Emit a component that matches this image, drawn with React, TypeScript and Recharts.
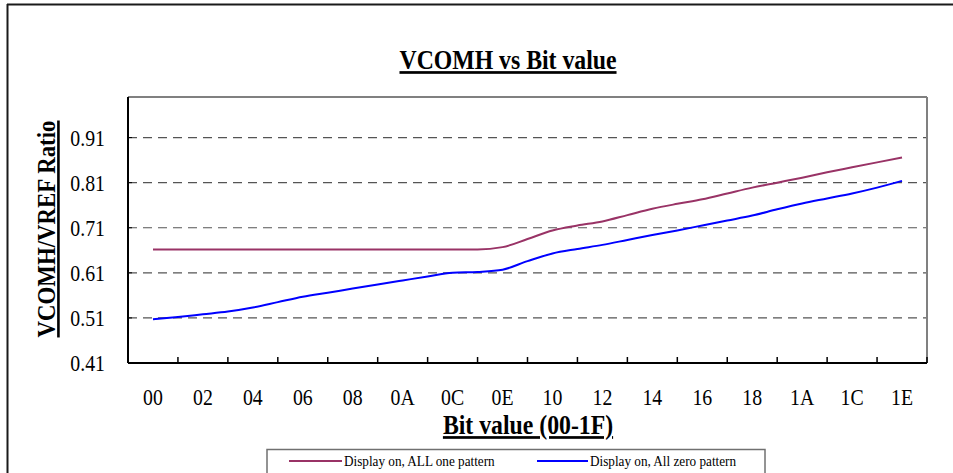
import React from "react";
import {
  LineChart,
  Line,
  XAxis,
  YAxis,
  CartesianGrid,
  ReferenceLine,
} from "recharts";

// bit codes 00..1E (one point per code)
const bitCodes = [
  "00", "01", "02", "03", "04", "05", "06", "07", "08", "09", "0A", "0B", "0C", "0D", "0E", "0F",
  "10", "11", "12", "13", "14", "15", "16", "17", "18", "19", "1A", "1B", "1C", "1D", "1E",
];

// Display on, ALL one pattern
const allOnePattern = [
  0.662, 0.662, 0.662, 0.662, 0.662, 0.662, 0.662, 0.662, 0.662, 0.662, 0.662, 0.662, 0.662, 0.662,
  0.667, 0.685, 0.704, 0.715, 0.724, 0.738, 0.752, 0.763, 0.773, 0.786, 0.799, 0.81, 0.821, 0.833,
  0.844, 0.855, 0.866,
];

// Display on, All zero pattern
const allZeroPattern = [
  0.507, 0.512, 0.518, 0.524, 0.533, 0.545, 0.557, 0.566, 0.575, 0.584, 0.593, 0.602, 0.61, 0.612,
  0.617, 0.636, 0.653, 0.663, 0.672, 0.683, 0.694, 0.704, 0.715, 0.726, 0.737, 0.751, 0.764, 0.775,
  0.786, 0.799, 0.814,
];

const xTickLabels = ["00", "02", "04", "06", "08", "0A", "0C", "0E", "10", "12", "14", "16", "18", "1A", "1C", "1E"];
const yTicks = [0.41, 0.51, 0.61, 0.71, 0.81, 0.91];

const data = bitCodes.map((code, i) => ({
  bit: parseInt(code, 16),
  allOne: allOnePattern[i],
  allZero: allZeroPattern[i],
}));

// every integer from -1 to 31: odd ones are tick marks, even ones are labels
const xTicks = Array.from({ length: 33 }, (_, i) => i - 1);

const FONT = "'Liberation Serif', 'Times New Roman', serif";
const MAROON = "#993366";
const BLUE = "#0000ff";
// the original text is a bit narrow and tall
const SQUEEZE = 0.88;

function Txt({ x, y, size, anchor = "start", bold = false, underline = false, rotate = 0, children }: any) {
  return (
    <text
      transform={`translate(${x},${y}) rotate(${rotate}) scale(${SQUEEZE},1)`}
      textAnchor={anchor}
      fontFamily={FONT}
      fontSize={size}
      fontWeight={bold ? "bold" : "normal"}
      fill="#000"
      style={underline ? { textDecoration: "underline" } : undefined}
    >
      {children}
    </text>
  );
}

function BitTick({ x, y, payload }: any) {
  const v = payload.value;
  if (v % 2 !== 0) {
    return <line x1={x} x2={x} y1={y} y2={y - 6} stroke="#000" strokeWidth={1.5} />;
  }
  return (
    <Txt x={x} y={y + 42} size={22.5} anchor="middle">
      {xTickLabels[v / 2]}
    </Txt>
  );
}

function RatioTick({ x, y, payload }: any) {
  return (
    <g>
      <line x1={x} x2={x + 4} y1={y} y2={y} stroke="#000" strokeWidth={1} />
      <Txt x={x - 23} y={y + 8} size={22.5} anchor="end">
        {payload.value.toFixed(2)}
      </Txt>
    </g>
  );
}

export default function App() {
  return (
    <div
      style={{
        position: "fixed",
        left: 0,
        top: 0,
        width: 953,
        height: 473,
        background: "#fff",
        overflow: "hidden",
      }}
    >
      <div style={{ position: "absolute", left: 0, top: 0 }}>
        <LineChart
          width={953}
          height={473}
          data={data}
          margin={{ top: 97, right: 26, bottom: 0, left: 0 }}
        >
          <CartesianGrid
            horizontal
            vertical={false}
            stroke="#555"
            strokeWidth={1.2}
            strokeDasharray="9 6"
          />
          <ReferenceLine y={1.0} stroke="#808080" strokeWidth={2} />
          <ReferenceLine x={31} stroke="#808080" strokeWidth={2} />
          <XAxis
            dataKey="bit"
            type="number"
            domain={[-1, 31]}
            ticks={xTicks}
            interval={0}
            height={110}
            tickSize={0}
            tickMargin={0}
            tickLine={false}
            axisLine={{ stroke: "#000", strokeWidth: 2 }}
            tick={<BitTick />}
          />
          <YAxis
            type="number"
            domain={[0.41, 1.0]}
            ticks={yTicks}
            interval={0}
            width={128}
            tickSize={0}
            tickMargin={0}
            tickLine={false}
            allowDataOverflow
            axisLine={{ stroke: "#000", strokeWidth: 2 }}
            tick={<RatioTick />}
          />
          <Line
            type="monotone"
            dataKey="allOne"
            stroke={MAROON}
            strokeWidth={2}
            dot={false}
            isAnimationActive={false}
          />
          <Line
            type="monotone"
            dataKey="allZero"
            stroke={BLUE}
            strokeWidth={2}
            dot={false}
            isAnimationActive={false}
          />
        </LineChart>
      </div>

      {/* frame, titles and legend */}
      <svg
        width={953}
        height={473}
        style={{ position: "absolute", left: 0, top: 0, pointerEvents: "none" }}
      >
        <line x1={7} x2={953} y1={4.5} y2={4.5} stroke="#1a1a1a" strokeWidth={2} />
        <line x1={7.5} x2={7.5} y1={4} y2={473} stroke="#1a1a1a" strokeWidth={2} />

        <Txt x={508} y={69} size={27} anchor="middle" bold underline>
          VCOMH vs Bit value
        </Txt>
        <Txt x={528} y={434} size={27} anchor="middle" bold underline>
          Bit value (00-1F)
        </Txt>
        <Txt x={55} y={229} size={26} anchor="middle" bold underline rotate={-90}>
          VCOMH/VREF Ratio
        </Txt>

        <rect x={267} y={449.5} width={498} height={40} fill="#fff" stroke="#707070" strokeWidth={1.5} />
        <line x1={289} x2={342} y1={461} y2={461} stroke={MAROON} strokeWidth={2} />
        <Txt x={344} y={466} size={15}>
          Display on, ALL one pattern
        </Txt>
        <line x1={537} x2={588} y1={461} y2={461} stroke={BLUE} strokeWidth={2} />
        <Txt x={590} y={466} size={15}>
          Display on, All zero pattern
        </Txt>
      </svg>
    </div>
  );
}
